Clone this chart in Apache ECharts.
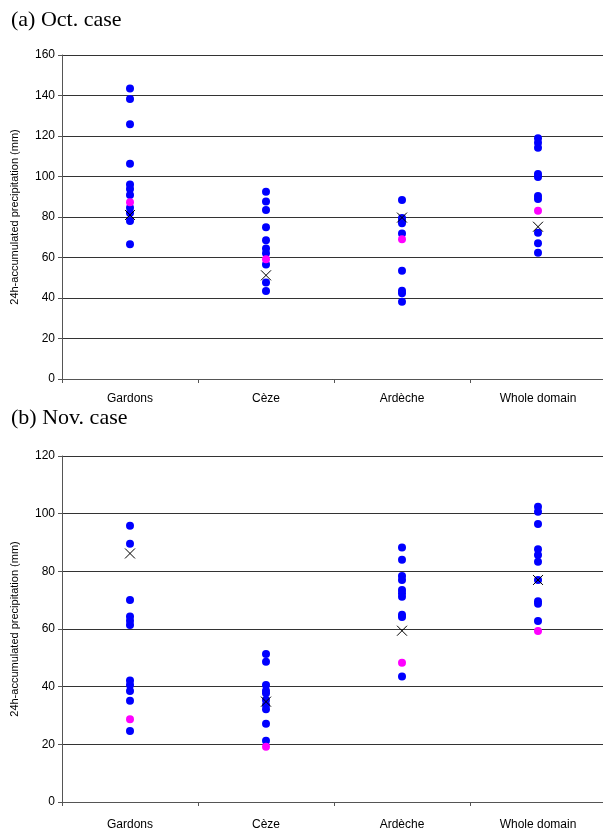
<!DOCTYPE html>
<html><head><meta charset="utf-8">
<script src="https://cdn.jsdelivr.net/npm/echarts@6/dist/echarts.min.js"></script>
<style>html,body{margin:0;padding:0;background:#fff}#c{width:603px;height:832px}</style>
</head><body><div id="c"></div>
<script>
const categories = ['Gardons', 'Cèze', 'Ardèche', 'Whole domain'];
// (a) Oct. case
const octEnsemble = [
  [143.5, 138.3, 125.8, 106.3, 96.1, 93.8, 90.9, 84.6, 82.0, 78.0, 66.5],
  [92.5, 87.6, 83.5, 74.9, 68.5, 64.5, 62.1, 56.6, 47.6, 43.5],
  [88.4, 79.5, 78.2, 76.9, 71.9, 53.5, 43.6, 42.4, 38.2],
  [118.9, 116.7, 114.2, 101.2, 99.8, 90.4, 88.9, 72.2, 67.0, 62.4]
];
const octControl = [87.3, 59.1, 69.0, 83.1];
const octObserved = [81.0, 51.2, 79.7, 75.2];
// (b) Nov. case
const novEnsemble = [
  [95.8, 89.6, 70.1, 64.3, 62.9, 61.4, 42.1, 40.6, 38.5, 35.1, 24.6],
  [51.3, 48.6, 40.6, 38.6, 37.7, 35.4, 33.6, 32.2, 27.1, 21.2],
  [88.3, 84.0, 78.4, 77.0, 73.5, 72.4, 71.2, 64.9, 64.2, 43.5],
  [102.4, 100.7, 96.4, 87.7, 85.7, 83.3, 77.0, 69.6, 68.8, 62.8]
];
const novControl = [28.7, 19.2, 48.3, 59.3];
const novObserved = [86.2, 34.8, 59.4, 77.0];
const octTicks = {min: 0, max: 160, interval: 20};
const novTicks = {min: 0, max: 120, interval: 20};
const titles = ['(a) Oct. case', '(b) Nov. case'];
const yName = '24h-accumulated precipitation (mm)';

function pts(arr) {
  const out = [];
  arr.forEach((vals, i) => vals.forEach(v => out.push([categories[i], v])));
  return out;
}
function single(arr) { return arr.map((v, i) => [categories[i], v]); }

const chart = echarts.init(document.getElementById('c'));
const grids = [
  {left: 62, width: 544, top: 55, height: 324, outerBoundsMode: 'none', containLabel: false},
  {left: 62, width: 544, top: 456, height: 346, outerBoundsMode: 'none', containLabel: false}
];
const xMargins = [14, 17];
const xAxis = grids.map((g, i) => ({
  type: 'category', gridIndex: i, data: categories,
  boundaryGap: true,
  axisLine: {lineStyle: {color: '#555', width: 1}},
  axisTick: {show: true, length: 4, lineStyle: {color: '#555'}},
  axisLabel: {color: '#000', fontFamily: 'Liberation Sans', fontSize: 12, margin: xMargins[i]},
  splitLine: {show: false}
}));
const yAxis = [octTicks, novTicks].map((t, i) => ({
  type: 'value', gridIndex: i, min: t.min, max: t.max, interval: t.interval,
  name: yName, nameLocation: 'middle', nameGap: 42,
  nameTextStyle: {color: '#000', fontFamily: 'Liberation Sans', fontSize: 11},
  axisLine: {show: true, lineStyle: {color: '#555'}},
  axisTick: {show: true, length: 4, lineStyle: {color: '#555'}},
  axisLabel: {color: '#000', fontFamily: 'Liberation Sans', fontSize: 12, margin: 7},
  splitLine: {show: true, lineStyle: {color: '#333', width: 1}}
}));
const xPath = 'path://M0,0L10,10M10,0L0,10';
function group(ens, ctl, obs, idx) {
  return [
    {type: 'scatter', xAxisIndex: idx, yAxisIndex: idx, data: pts(ens), symbol: 'circle', symbolSize: 8,
     itemStyle: {color: '#0000ff', opacity: 1}, z: 2},
    {type: 'scatter', xAxisIndex: idx, yAxisIndex: idx, data: single(ctl), symbol: 'circle', symbolSize: 8,
     itemStyle: {color: '#ff00ff', opacity: 1}, z: 3},
    {type: 'scatter', xAxisIndex: idx, yAxisIndex: idx, data: single(obs), symbol: xPath, symbolSize: 10,
     itemStyle: {color: 'rgba(0,0,0,0)', borderColor: '#000', borderWidth: 1, opacity: 1}, z: 4}
  ];
}
chart.setOption({
  animation: false,
  backgroundColor: '#fff',
  title: [
    {text: titles[0], left: 6, top: 4, textStyle: {fontFamily: 'Liberation Serif', fontSize: 22, fontWeight: 'normal', color: '#000'}},
    {text: titles[1], left: 6, top: 402, textStyle: {fontFamily: 'Liberation Serif', fontSize: 22, fontWeight: 'normal', color: '#000'}}
  ],
  grid: grids,
  xAxis: xAxis,
  yAxis: yAxis,
  series: [...group(octEnsemble, octControl, octObserved, 0), ...group(novEnsemble, novControl, novObserved, 1)]
});
</script></body></html>
